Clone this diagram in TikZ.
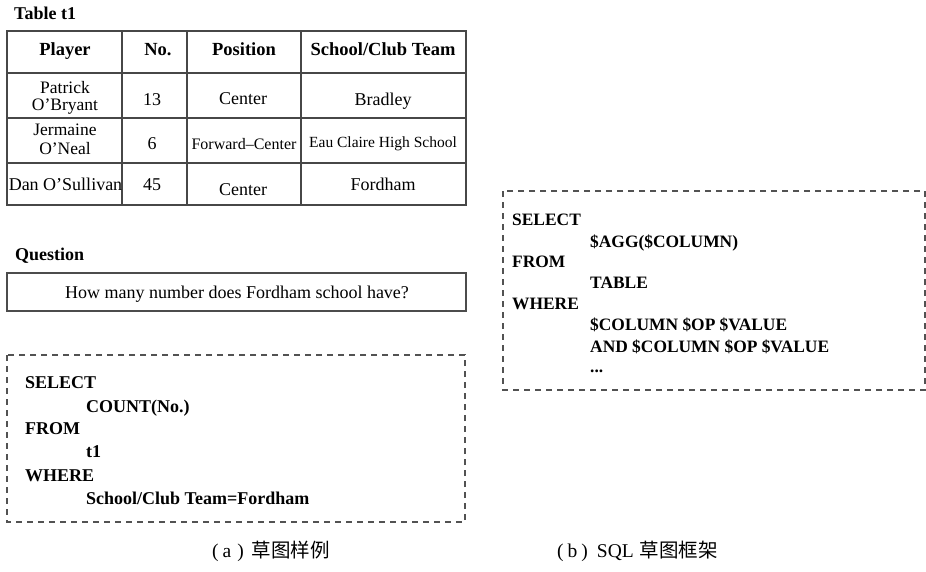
\documentclass[tikz,border=0pt]{standalone}
\usepackage{fontspec}
\setmainfont{Liberation Serif}
\newfontfamily\cjk{Noto Sans CJK SC}
\begin{document}
\begin{tikzpicture}[x=1pt,y=-1pt,
  tblline/.style={draw=black!72, line width=1.3pt},
  hdr/.style={font=\fontsize{18.5}{18.5}\selectfont\bfseries, anchor=base, inner sep=0},
  cell/.style={font=\fontsize{18}{16}\selectfont, anchor=base, inner sep=0},
  twoline/.style={font=\fontsize{17.5}{#1}\selectfont, align=center, anchor=center, inner sep=0},
  narrow/.style={font=\fontsize{#1}{15}\selectfont, anchor=base, inner sep=0},
  lbl/.style={font=\fontsize{18}{18}\selectfont\bfseries, anchor=base west, inner sep=0},
  qbox/.style={draw=black!70, line width=1.3pt},
  dbox/.style={draw=black!68, line width=1.8pt, dash pattern=on 6pt off 5pt},
  sqla/.style={font=\fontsize{18}{18}\selectfont\bfseries, anchor=base west, inner sep=0},
  sqlb/.style={font=\fontsize{17.4}{17.4}\selectfont\bfseries, anchor=base west, inner sep=0},
  captext/.style={font=\fontsize{19.5}{19.5}\selectfont, anchor=base west, inner sep=0}]
\useasboundingbox (0,0) rectangle (926,571);
\fill[white] (0,0) rectangle (926,571);

% Table t1
\node[lbl] (tlabel) at (14,19) {Table t1};
\draw[tblline] (7,31) rectangle (466,205);
\draw[tblline] (7,73) -- (466,73) (7,118) -- (466,118) (7,163) -- (466,163);
\draw[tblline] (122,31) -- (122,205) (187,31) -- (187,205) (301,31) -- (301,205);

\node[hdr] (h1) at (65,55) {Player};
\node[hdr] (h2) at (158,55) {No.};
\node[hdr] (h3) at (244,55) {Position};
\node[hdr] (h4) at (383,55) {School/Club Team};

\node[twoline=17] (c11) at (65,97.5) {Patrick\\O’Bryant};
\node[cell] (c12) at (152,105) {13};
\node[cell] (c13) at (243,104) {Center};
\node[cell] (c14) at (383,105) {Bradley};

\node[twoline=19] (c21) at (65,139) {Jermaine\\O’Neal};
\node[cell] (c22) at (152,149) {6};
\node[narrow=16] (c23) at (244,149) {Forward–Center};
\node[narrow=15.5] (c24) at (383,147) {Eau Claire High School};

\node[cell] (c31) at (65.5,190.5) {Dan O’Sullivan};
\node[cell] (c32) at (152,190) {45};
\node[cell] (c33) at (243,195) {Center};
\node[cell] (c34) at (383,190) {Fordham};

% Question
\node[lbl] (qlabel) at (15,260) {Question};
\draw[qbox] (7,273) rectangle (466,311);
\node[cell] (qtext) at (237,298) {How many number does Fordham school have?};

% Left SQL sketch
\draw[dbox] (7,355) rectangle (465,522);
\node[sqla] (a1) at (25,388) {SELECT};
\node[sqla] (a2) at (86,412) {COUNT(No.)};
\node[sqla] (a3) at (25,434) {FROM};
\node[sqla] (a4) at (86,457) {t1};
\node[sqla] (a5) at (25,481) {WHERE};
\node[sqla] (a6) at (86,504) {School/Club Team=Fordham};

% Right SQL sketch frame
\draw[dbox] (503,191) rectangle (925,390);
\node[sqlb] (b1) at (512,225) {SELECT};
\node[sqlb] (b2) at (590,247) {\$AGG(\$COLUMN)};
\node[sqlb] (b3) at (512,267) {FROM};
\node[sqlb] (b4) at (590,288) {TABLE};
\node[sqlb] (b5) at (512,309) {WHERE};
\node[sqlb] (b6) at (590,330) {\$COLUMN \$OP \$VALUE};
\node[sqlb] (b7) at (590,352) {AND \$COLUMN \$OP \$VALUE};
\node[sqlb] (b8) at (590,372) {...};

% Captions
\node[captext] (capa) at (212,557) {(\hspace{4pt}a\hspace{6pt})\hspace{8pt}{\cjk 草图样例}};
\node[captext] (capb) at (557,557) {(\hspace{4pt}b\hspace{4pt})\hspace{9pt}SQL\hspace{6pt}{\cjk 草图框架}};
\end{tikzpicture}
\end{document}
